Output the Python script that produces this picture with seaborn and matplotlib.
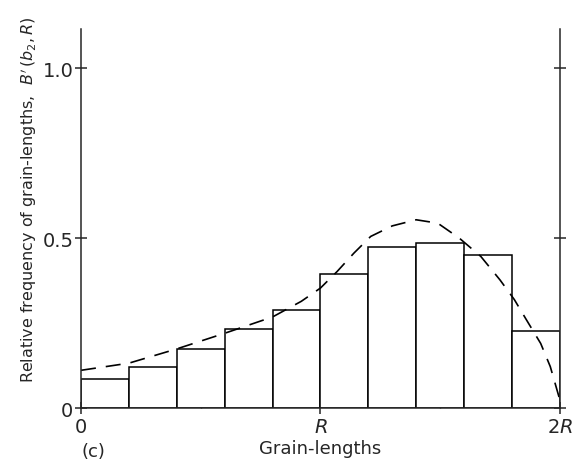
import matplotlib
matplotlib.use("Agg")
import matplotlib.pyplot as plt
import seaborn as sns
import pandas as pd

# histogram: 10 bins of width 0.2R over [0, 2R]
bin_centres = [0.1, 0.3, 0.5, 0.7, 0.9, 1.1, 1.3, 1.5, 1.7, 1.9]
rel_freq = [0.085, 0.122, 0.175, 0.234, 0.287, 0.393, 0.475, 0.487, 0.451, 0.228]

# dashed theoretical curve
curve_x = [0.0, 0.2, 0.4, 0.6, 0.8, 0.92, 1.0, 1.07, 1.14, 1.21, 1.30,
           1.40, 1.49, 1.58, 1.67, 1.75, 1.81, 1.86, 1.92, 1.96, 2.0]
curve_y = [0.111, 0.132, 0.174, 0.22, 0.268, 0.314, 0.353, 0.402, 0.456, 0.505, 0.536,
           0.554, 0.544, 0.5, 0.446, 0.377, 0.319, 0.26, 0.19, 0.122, 0.024]

x_ticks = [0, 1, 2]
x_ticklabels = ["0", "$R$", "$2R$"]
y_ticks = [0, 0.5, 1.0]
y_ticklabels = ["0", "0.5", "1.0"]

sns.set_style("ticks")
plt.rcParams['font.family'] = ['DejaVu Sans']
plt.rcParams['mathtext.fontset'] = 'dejavusans'

fig = plt.figure(figsize=(5.85, 4.64), dpi=100)
ax = fig.add_axes([0.1385, 0.1185, 0.957 - 0.1385, 0.935 - 0.1185])

hist = pd.DataFrame({'x': bin_centres, 'w': rel_freq})
sns.histplot(data=hist, x='x', weights='w', bins=10, binrange=(0, 2),
             stat='count', color='white', edgecolor='black', linewidth=1.1,
             alpha=1, ax=ax)

curve = pd.DataFrame({'x': curve_x, 'y': curve_y})
sns.lineplot(data=curve, x='x', y='y', color='black', linewidth=1.2,
             dashes=False, ax=ax)
ax.lines[-1].set_linestyle((0, (9, 6)))

ax.set_xlim(0, 2.0)
ax.set_ylim(0, 1.115)

ax.spines['top'].set_visible(False)
ax.spines['right'].set_visible(True)
for s in ax.spines.values():
    s.set_linewidth(1.1)

ax.set_xticks(x_ticks)
ax.set_xticklabels(x_ticklabels, fontsize=14)
ax.set_yticks(y_ticks)
ax.set_yticklabels(y_ticklabels, fontsize=14)
ax.set_xticks([0.5, 1.5], minor=True)
ax.tick_params(axis='x', which='major', direction='inout', length=9, width=1.1, pad=2)
ax.tick_params(axis='x', which='minor', direction='in', length=3, width=1.0)
ax.tick_params(axis='y', which='major', direction='inout', length=9, width=1.1,
               right=True, labelright=False, pad=1)

ax.set_xlabel("Grain-lengths", fontsize=13, labelpad=2)
ax.set_ylabel("Relative frequency of grain-lengths,  $B'\\,(b_2, R)$",
              fontsize=11.5, loc='bottom')
ax.yaxis.set_label_coords(-0.088, 0.069)

ax.text(0.0, -0.113, "(c)", transform=ax.transAxes, fontsize=13,
        ha='left', va='center')

fig.savefig("out.png", dpi=100)
